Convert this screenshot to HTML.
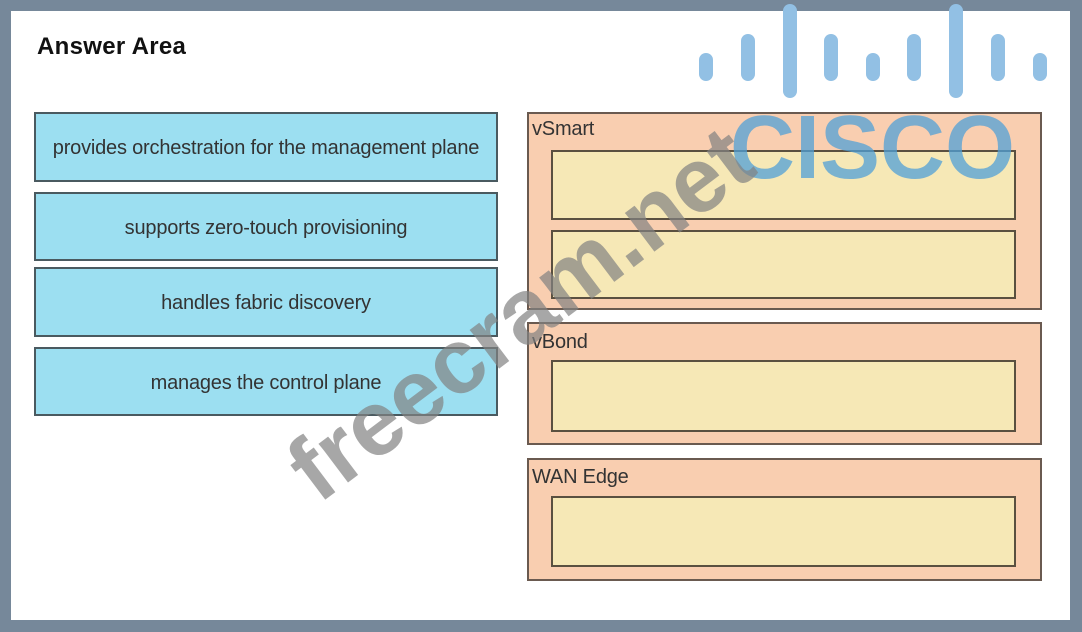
<!DOCTYPE html>
<html><head><style>
body{margin:0;width:1082px;height:632px;background:#76889a;position:relative;overflow:hidden;font-family:"Liberation Sans",sans-serif}
.panel{position:absolute;left:11px;top:11px;width:1059px;height:609px;background:#fff}
.b{position:absolute;box-sizing:border-box}
.l{background:#9cdff1;border:2px solid #4a5a60;display:flex;align-items:center;justify-content:center;font-size:20px;color:#333;letter-spacing:-0.2px;padding-top:3px}
.o{background:#f9ceb0;border:2px solid #6a5a50}
.y{background:#f6e8b6;border:2px solid #5a5040}
.t{position:absolute;font-size:20px;color:#333;letter-spacing:-0.2px}
.bar{position:absolute;width:14px;background:#92c0e4;border-radius:7px}
</style></head><body>
<div class="panel"></div>
<div class="t" style="left:37px;top:33px;font-weight:bold;font-size:24px;color:#111;letter-spacing:0.3px">Answer Area</div>
<div class="b l" style="left:34px;top:112px;width:464px;height:70px">provides orchestration for the management plane</div>
<div class="b l" style="left:34px;top:192px;width:464px;height:69px">supports zero-touch provisioning</div>
<div class="b l" style="left:34px;top:267px;width:464px;height:70px">handles fabric discovery</div>
<div class="b l" style="left:34px;top:347px;width:464px;height:69px">manages the control plane</div>
<div class="b o" style="left:527px;top:112px;width:515px;height:198px"></div>
<div class="t" style="left:532px;top:118px">vSmart</div>
<div class="b y" style="left:551px;top:150px;width:465px;height:70px"></div>
<div class="b y" style="left:551px;top:230px;width:465px;height:69px"></div>
<div class="b o" style="left:527px;top:322px;width:515px;height:123px"></div>
<div class="t" style="left:532px;top:331px">vBond</div>
<div class="b y" style="left:551px;top:360px;width:465px;height:72px"></div>
<div class="b o" style="left:527px;top:458px;width:515px;height:123px"></div>
<div class="t" style="left:532px;top:466px">WAN Edge</div>
<div class="b y" style="left:551px;top:496px;width:465px;height:71px"></div>
<div class="bar" style="left:699px;top:53px;height:28px"></div>
<div class="bar" style="left:741px;top:34px;height:47px"></div>
<div class="bar" style="left:783px;top:4px;height:94px"></div>
<div class="bar" style="left:824px;top:34px;height:47px"></div>
<div class="bar" style="left:866px;top:53px;height:28px"></div>
<div class="bar" style="left:907px;top:34px;height:47px"></div>
<div class="bar" style="left:949px;top:4px;height:94px"></div>
<div class="bar" style="left:991px;top:34px;height:47px"></div>
<div class="bar" style="left:1033px;top:53px;height:28px"></div>
<div style="position:absolute;left:730px;top:97px;font-size:90px;font-weight:bold;color:rgba(80,160,215,0.75);letter-spacing:0">CISCO</div>
<div style="position:absolute;font-size:92px;font-weight:bold;color:rgba(130,130,130,0.7);transform:rotate(-37deg);transform-origin:left center;white-space:nowrap;left:300px;top:428px">freecram.net</div>
</body></html>
